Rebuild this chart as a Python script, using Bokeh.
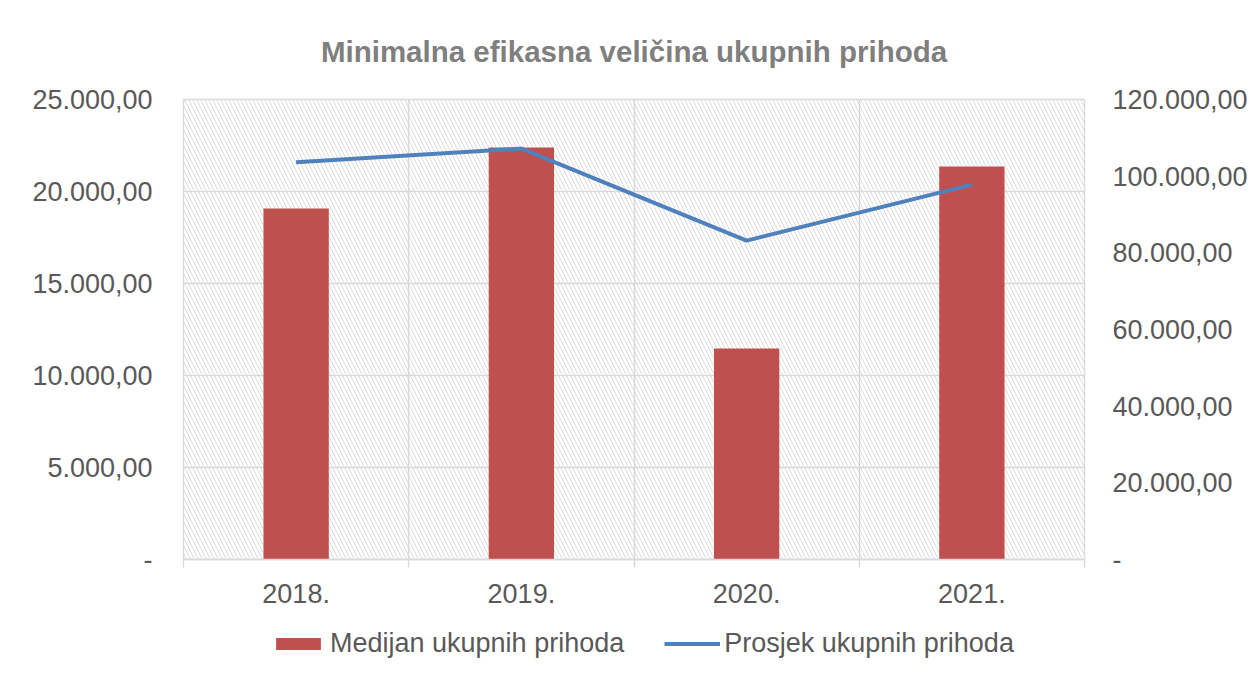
from bokeh.plotting import figure
from bokeh.layouts import column
from bokeh.models import (Range1d, LinearAxis, FixedTicker, BoxAnnotation, Legend,
                          LegendItem, ColumnDataSource)
from bokeh.embed import file_html
from bokeh.resources import INLINE

title = "Minimalna efikasna veličina ukupnih prihoda"
years = ["2018.", "2019.", "2020.", "2021."]
median = [19070, 22390, 11470, 21360]          # Medijan ukupnih prihoda (left axis)
average = [103600, 107200, 83200, 97800]       # Prosjek ukupnih prihoda (right axis)
left_ticks = [0, 5000, 10000, 15000, 20000, 25000]
right_ticks = [0, 20000, 40000, 60000, 80000, 100000, 120000]
series_names = ["Medijan ukupnih prihoda", "Prosjek ukupnih prihoda"]

FONT = "Liberation Sans"
TXT = "#595959"
GRID = "#d9d9d9"
FS = "27px"
BAR_COLOR = "#C0504D"
LINE_COLOR = "#4F81BD"


def fmt(v):
    if v == 0:
        return "-"
    s = f"{v:,.2f}"
    return s.replace(",", "X").replace(".", ",").replace("X", ".")


xs = [i + 0.5 for i in range(len(years))]
bounds = list(range(len(years) + 1))
src = ColumnDataSource(dict(x=xs, median=median, average=average))

p = figure(frame_width=901, frame_height=460, x_range=Range1d(0, len(years)),
           y_range=Range1d(left_ticks[0], left_ticks[-1]),
           output_backend="svg", toolbar_location=None,
           min_border_left=183, min_border_right=174, min_border_top=98,
           min_border_bottom=57)
p.extra_y_ranges = {"right": Range1d(right_ticks[0], right_ticks[-1])}

p.title.text = title
p.title.align = "center"
p.title.text_font = FONT
p.title.text_font_size = "29.5px"
p.title.text_font_style = "bold"
p.title.text_color = "#7f7f7f"
p.title.standoff = 64

# hatched plot area
hatch = BoxAnnotation(fill_color=None, line_color=None, hatch_pattern="\\",
                      hatch_color="#dcdcdc", hatch_scale=8, hatch_weight=1,
                      level="image")
p.add_layout(hatch)

p.outline_line_color = GRID
p.outline_line_width = 1.5

p.xgrid.ticker = FixedTicker(ticks=bounds)
p.ygrid.ticker = FixedTicker(ticks=left_ticks)
for g in (p.xgrid, p.ygrid):
    g.grid_line_color = GRID
    g.grid_line_width = 1.5

xa = p.xaxis[0]
xa.ticker = FixedTicker(ticks=xs, minor_ticks=bounds)
xa.major_label_overrides = {x: y for x, y in zip(xs, years)}
xa.axis_line_color = GRID
xa.axis_line_width = 1.5
xa.major_tick_line_color = None
xa.major_tick_out = 0
xa.major_tick_in = 0
xa.minor_tick_line_color = GRID
xa.minor_tick_line_width = 1.5
xa.minor_tick_out = 8
xa.minor_tick_in = 0
xa.major_label_standoff = 16
xa.major_label_text_font = FONT
xa.major_label_text_font_size = FS
xa.major_label_text_color = TXT

ya = p.yaxis[0]
ya.ticker = FixedTicker(ticks=left_ticks)
ya.major_label_overrides = {t: fmt(t) for t in left_ticks}
ya.major_label_standoff = 31

yr = LinearAxis(y_range_name="right", ticker=FixedTicker(ticks=right_ticks))
yr.major_label_overrides = {t: fmt(t) for t in right_ticks}
yr.major_label_standoff = 28
p.add_layout(yr, "right")

for a in (ya, yr):
    a.axis_line_color = None
    a.major_tick_line_color = None
    a.minor_tick_line_color = None
    a.major_tick_out = 0
    a.major_tick_in = 0
    a.major_label_text_font = FONT
    a.major_label_text_font_size = FS
    a.major_label_text_color = TXT

p.vbar(x="x", top="median", width=0.29, source=src,
       fill_color=BAR_COLOR, line_color=None)
p.line(x="x", y="average", y_range_name="right", source=src,
       line_color=LINE_COLOR, line_width=4, line_join="round")

# legend strip below the chart; swatch renderers sit outside the visible range
lf = figure(frame_width=901, frame_height=60,
            x_axis_type=None, y_axis_type=None, output_backend="svg",
            toolbar_location=None, min_border_left=183, min_border_right=174,
            min_border_top=0, min_border_bottom=0, outline_line_color=None,
            x_range=Range1d(0, 1), y_range=Range1d(0, 1))
lf.grid.visible = False
sw_bar = lf.vbar(x=[-5], top=[-5], width=0.1, fill_color=BAR_COLOR, line_color=None)
sw_line = lf.line(x=[-5, -4], y=[-5, -5], line_color=LINE_COLOR, line_width=4)

legend = Legend(items=[LegendItem(label=series_names[0], renderers=[sw_bar]),
                       LegendItem(label=series_names[1], renderers=[sw_line])],
                orientation="horizontal", location=(87, 17),
                label_text_font=FONT, label_text_font_size=FS,
                label_text_color=TXT, border_line_color=None,
                background_fill_alpha=0, glyph_width=56, glyph_height=15,
                label_height=30, spacing=40, label_standoff=4, padding=0, margin=0)
lf.add_layout(legend, "center")

layout = column(p, lf, spacing=0)
open("out.html", "w").write(file_html(layout, INLINE))
